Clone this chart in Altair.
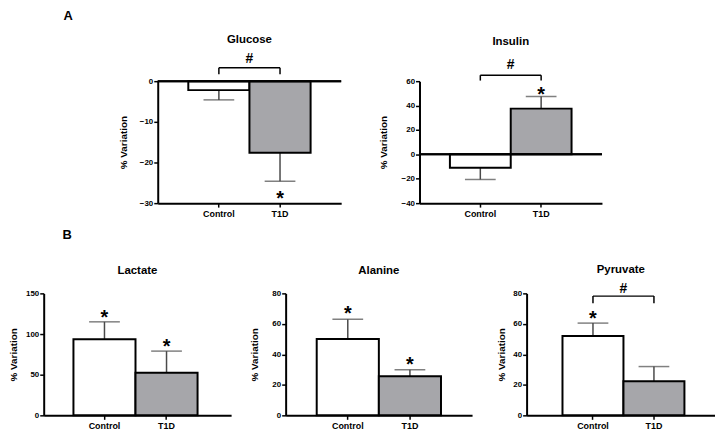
import altair as alt
import pandas as pd

FONT = "Liberation Sans"
groups = ["Control", "T1D"]
bar_fill = ["#ffffff", "#a6a6aa"]
ERR = "#4a4a4a"

# ---- data ----
glucose_mean = [-2.2, -17.6]
glucose_err = [-4.6, -24.6]
glucose_star = [None, -27.8]
glucose_bracket = [3.3, 1.7]   # top, leg end
glucose_hash = 5.7

insulin_mean = [-11.0, 37.5]
insulin_err = [-20.6, 47.4]
insulin_star = [None, 52.9]
insulin_bracket = [64.9, 60.5]
insulin_hash = 74.2

lactate_mean = [93.5, 52.5]
lactate_err = [115.0, 79.0]
lactate_star = [125.8, 90.0]

alanine_mean = [50.1, 25.6]
alanine_err = [63.1, 29.9]
alanine_star = [69.6, 36.4]

pyruvate_mean = [52.0, 22.3]
pyruvate_err = [60.5, 32.0]
pyruvate_star = [66.1, None]
pyruvate_bracket = [78.2, 73.6]
pyruvate_hash = 83.7

PLOT_H = 123


def panel(title, means, errs, stars, domain, ticks, width, title_y, ytitle_x,
          pad_outer=0.5, align=0.5, bracket=None, hash_y=None,
          zero_line=False, letter=None):
    df = pd.DataFrame({"group": groups, "mean": means, "err": errs, "star": stars})
    xs = alt.Scale(domain=groups, paddingInner=0, paddingOuter=pad_outer, align=align)
    xaxis = alt.Axis(labelAngle=0, labelFontSize=9, labelPadding=2, title=None,
                     domainColor="black", domainWidth=2, tickColor="black",
                     tickWidth=1.5, tickSize=4, labelColor="black",
                     labelFont=FONT, labelFontWeight="bold", grid=False)
    ys = alt.Scale(domain=domain, nice=False, zero=False)
    yaxis = alt.Axis(values=ticks, format="d", labelFontSize=8, labelPadding=1,
                     labelOverlap=False, labelFlush=False,
                     domainColor="black", domainWidth=2, tickColor="black",
                     tickWidth=1.5, tickSize=4, labelColor="black",
                     labelFont=FONT, labelFontWeight="bold", grid=False,
                     titleFont=FONT, titleFontWeight="bold", titleFontSize=10,
                     titleColor="black", titleX=ytitle_x)

    def X(field="group", **kw):
        return alt.X(f"{field}:N", scale=xs, axis=xaxis, title=None, **kw)

    def Y(field):
        return alt.Y(f"{field}:Q", scale=ys, axis=yaxis, title="% Variation")

    base = alt.Chart(df)
    layers = []
    layers.append(base.mark_rule(color=ERR, strokeWidth=1.5).encode(x=X(), y=Y("mean"), y2="err:Q"))
    layers.append(base.mark_tick(color=ERR, thickness=1.5, size=31).encode(x=X(), y=Y("err")))
    layers.append(base.mark_bar(stroke="black", strokeWidth=2).encode(
        x=X(), y=Y("mean"),
        fill=alt.Fill("group:N", scale=alt.Scale(domain=groups, range=bar_fill), legend=None)))
    if zero_line:
        layers.append(base.mark_rule(color="black", strokeWidth=2).encode(
            y=alt.Y(datum=0, scale=ys, axis=yaxis, title="% Variation")))
    layers.append(base.transform_filter("isValid(datum.star)").mark_text(
        text="*", fontSize=20, fontWeight="bold", font=FONT, color="black",
        baseline="alphabetic", dy=11).encode(x=X(), y=Y("star")))
    if bracket is not None:
        bdf = pd.DataFrame({"group": groups, "top": [bracket[0]] * 2, "leg": [bracket[1]] * 2})
        hdf = pd.DataFrame({"start": ["Control"], "end": ["T1D"], "top": [bracket[0]]})
        layers.append(alt.Chart(bdf).mark_rule(color="black", strokeWidth=1.5).encode(
            x=X(), y=Y("leg"), y2="top:Q"))
        layers.append(alt.Chart(hdf).mark_rule(color="black", strokeWidth=1.5).encode(
            x=X("start"), x2="end:N", y=Y("top")))
        sdf = pd.DataFrame({"group": ["T1D"], "h": [hash_y]})
        layers.append(alt.Chart(sdf).mark_text(
            text="#", fontSize=14, fontWeight="bold", font=FONT, color="black",
            baseline="alphabetic", dy=5).encode(x=X(bandPosition=0), y=Y("h")))
    # panel title
    tdf = pd.DataFrame({"t": [title]})
    layers.append(alt.Chart(tdf).mark_text(
        fontSize=11.5, fontWeight="bold", font=FONT, color="black",
        align="center", baseline="alphabetic").encode(
        text="t:N", x=alt.value(width / 2), y=alt.value(title_y)))
    if letter is not None:
        txt, lx, ly = letter
        ldf = pd.DataFrame({"t": [txt]})
        layers.append(alt.Chart(ldf).mark_text(
            fontSize=13, fontWeight="bold", font=FONT, color="black",
            align="left", baseline="alphabetic").encode(
            text="t:N", x=alt.value(lx), y=alt.value(ly)))
    return alt.layer(*layers).properties(width=width, height=PLOT_H)


glucose = panel("Glucose", glucose_mean, glucose_err, glucose_star, [-30, 0],
                [-30, -20, -10, 0], 185, -39, -29.5, bracket=glucose_bracket,
                hash_y=glucose_hash, zero_line=True, letter=("A", -95, -62))
insulin = panel("Insulin", insulin_mean, insulin_err, insulin_star, [-40, 60],
                [-40, -20, 0, 20, 40, 60], 184, -36, -31.5, bracket=insulin_bracket,
                hash_y=insulin_hash, zero_line=True)
lactate = panel("Lactate", lactate_mean, lactate_err, lactate_star, [0, 150],
                [0, 50, 100, 150], 189, -20, -25.5, pad_outer=0.51, align=0.47,
                letter=("B", 19, -55))
alanine = panel("Alanine", alanine_mean, alanine_err, alanine_star, [0, 80],
                [0, 20, 40, 60, 80], 188, -20, -26.5)
pyruvate = panel("Pyruvate", pyruvate_mean, pyruvate_err, pyruvate_star, [0, 80],
                 [0, 20, 40, 60, 80], 190, -21, -20.5, pad_outer=0.545, align=0.54,
                 bracket=pyruvate_bracket, hash_y=pyruvate_hash)

spacer = alt.Chart(pd.DataFrame({"v": [0]})).mark_point(opacity=0).encode(
    x=alt.X("v:Q", axis=None), y=alt.Y("v:Q", axis=None)).properties(width=36, height=PLOT_H)

rowA = alt.hconcat(spacer, glucose, insulin, spacing=79, bounds="flush")
rowB = alt.hconcat(lactate, alanine, pyruvate, spacing=55, bounds="flush")
chart = alt.vconcat(rowA, rowB, spacing=214, bounds="flush").properties(
    padding=0).configure_view(stroke=None)

chart.save("out.html", embed_options={"renderer": "svg", "actions": False})
